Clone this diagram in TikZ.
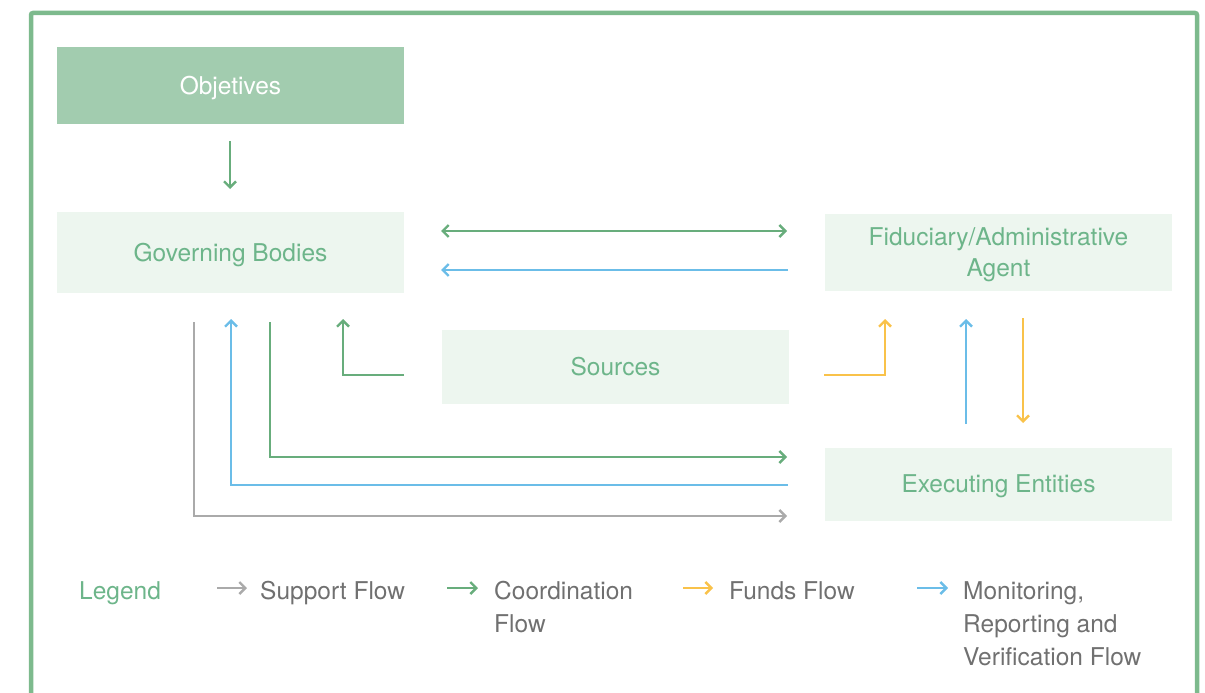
\documentclass[tikz,border=0pt]{standalone}
\usepackage{fontspec}
\setmainfont{TeX Gyre Heros}
\usetikzlibrary{arrows.meta}
\definecolor{frameG}{HTML}{7DBA8D}
\definecolor{darkG}{HTML}{A2CCAF}
\definecolor{lightG}{HTML}{EDF6EF}
\definecolor{txtG}{HTML}{6DB58A}
\definecolor{lnG}{HTML}{68AD7C}
\definecolor{lnB}{HTML}{6BBDE8}
\definecolor{lnY}{HTML}{F9C24A}
\definecolor{lnS}{HTML}{AAAAAA}
\definecolor{txtS}{HTML}{707070}
\tikzset{
  box/.style={rectangle, fill=lightG, text=txtG, minimum width=347pt, inner sep=0pt, text depth=0pt, font=\fontsize{24.5}{31}\selectfont, align=center},
  tipc/.tip={Straight Barb[length=6pt,width=12pt,line width=2.4pt]},
  flow/.style={line width=2.7pt, -tipc},
  coordf/.style={flow, draw=lnG},
  monf/.style={flow, draw=lnB},
  fundf/.style={flow, draw=lnY},
  suppf/.style={flow, draw=lnS},
  legtxt/.style={anchor=north west, text=txtS, font=\fontsize{24.5}{33}\selectfont, align=left, inner sep=0pt},
}
\begin{document}
\begin{tikzpicture}[x=1pt,y=-1pt]
\useasboundingbox (0,0) rectangle (1205,693);
\begin{scope}
\clip (0,0) rectangle (1205,693);
\draw[frameG, line width=4.5pt, rounded corners=2pt] (31,13) rectangle (1197,730);
\end{scope}

\node[box, fill=darkG, text=white, minimum height=77pt] (obj) at (230.5,85.5) {Objetives};
\node[box, minimum height=81pt] (gb) at (230.5,252) {Governing Bodies};
\node[box, minimum height=77pt] (fid) at (998.5,252) {Fiduciary/Administrative\\Agent};
\node[box, minimum height=74pt] (src) at (615.5,366.5) {Sources};
\node[box, minimum height=73pt] (exe) at (998.5,484) {Executing Entities};

% obj -> gb
\coordinate (o1) at (230,141);
\coordinate (o2) at (230,189);
\draw[coordf] (o1) -- (o2);
% gb <-> fid
\coordinate (c1) at (441,231);
\coordinate (c2) at (787,231);
\draw[coordf, tipc-tipc] (c1) -- (c2);
\coordinate (m1) at (788,270);
\coordinate (m2) at (441,270);
\draw[monf] (m1) -- (m2);
% sources -> gb
\coordinate (s1) at (404,375);
\coordinate (s2) at (343,319);
\draw[coordf] (s1) -| (s2);
% sources -> fid
\coordinate (s3) at (824,375);
\coordinate (s4) at (885,319);
\draw[fundf] (s3) -| (s4);
% exe -> fid (monitoring)
\coordinate (e1) at (966,424);
\coordinate (e2) at (966,319);
\draw[monf] (e1) -- (e2);
% fid -> exe (funds)
\coordinate (f1) at (1023,318);
\coordinate (f2) at (1023,423);
\draw[fundf] (f1) -- (f2);
% gb -> exe coordination
\coordinate (g1) at (270,322);
\coordinate (g2) at (787,457);
\draw[coordf] (g1) |- (g2);
% exe -> gb monitoring
\coordinate (b1) at (788,485);
\coordinate (b2) at (231,319);
\draw[monf] (b1) -| (b2);
% gb -> exe support
\coordinate (p1) at (194,322);
\coordinate (p2) at (787,516);
\draw[suppf] (p1) |- (p2);

% legend
\node[legtxt, text=txtG] (leg) at (79,581) {Legend};
\coordinate (l1a) at (217,588); \coordinate (l1b) at (247,588);
\draw[suppf] (l1a) -- (l1b);
\node[legtxt] (t1) at (260,581) {Support Flow};
\coordinate (l2a) at (447,588); \coordinate (l2b) at (478,588);
\draw[coordf] (l2a) -- (l2b);
\node[legtxt] (t2) at (494,581) {Coordination\\Flow};
\coordinate (l3a) at (683,588); \coordinate (l3b) at (713,588);
\draw[fundf] (l3a) -- (l3b);
\node[legtxt] (t3) at (729,581) {Funds Flow};
\coordinate (l4a) at (917,588); \coordinate (l4b) at (948,588);
\draw[monf] (l4a) -- (l4b);
\node[legtxt] (t4) at (963,581) {Monitoring,\\Reporting and\\Verification Flow};
\end{tikzpicture}
\end{document}
